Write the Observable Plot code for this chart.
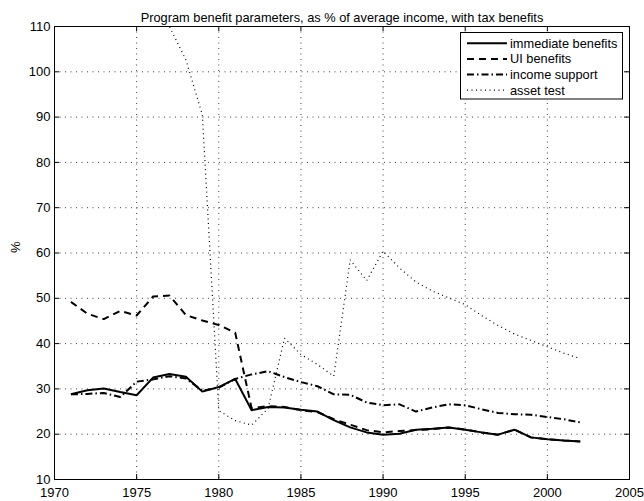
<!DOCTYPE html>
<html>
<head>
<meta charset="utf-8">
<script src="https://cdn.jsdelivr.net/npm/d3@7"></script>
<script src="https://cdn.jsdelivr.net/npm/@observablehq/plot@0.6"></script>
<style>
  html, body { margin: 0; padding: 0; background: #fff; }
  #chart { width: 644px; height: 501px; }
</style>
</head>
<body>
<div id="chart"></div>
<script>
const titleText = "Program benefit parameters, as % of average income, with tax benefits";
const yLabel = "%";
const seriesNames = ["immediate benefits", "UI benefits", "income support", "asset test"];

const years = [1971,1972,1973,1974,1975,1976,1977,1978,1979,1980,1981,1982,1983,1984,1985,1986,
               1987,1988,1989,1990,1991,1992,1993,1994,1995,1996,1997,1998,1999,2000,2001,2002];

const immediate = [28.8,29.7,30.1,29.3,28.6,32.5,33.3,32.7,29.4,30.4,32.2,25.3,26.0,25.9,25.4,25.0,
                   23.1,21.5,20.4,19.9,20.1,21.0,21.2,21.5,21.0,20.4,19.9,21.0,19.3,18.9,18.6,18.4];
const uiBenefits = [49.2,46.6,45.4,47.2,46.2,50.4,50.6,46.3,45.1,44.1,42.4,25.7,26.2,26.0,25.3,24.9,
                    23.3,22.1,20.9,20.4,20.7,20.9,21.1,21.5,21.0,20.4,19.9,21.0,19.3,18.9,18.6,18.4];
const incomeSupport = [28.8,28.9,29.1,28.2,31.6,32.1,32.8,32.3,29.6,30.3,32.2,33.2,33.9,32.6,31.5,30.6,
                       28.8,28.7,27.0,26.4,26.6,25.0,25.9,26.6,26.4,25.5,24.7,24.4,24.3,23.8,23.3,22.6];
const assetTest = [110,110,110,110,110,110,110,102.6,90.5,25.2,23.0,22.0,25.7,41.2,37.6,35.4,
                   32.8,58.5,53.9,60.4,56.7,53.6,51.6,50.1,48.6,46.2,44.0,42.1,40.7,39.3,37.9,36.7];

const xTicks = [1970,1975,1980,1985,1990,1995,2000,2005];
const yTicks = [10,20,30,40,50,60,70,80,90,100,110];

const styles = [
  {dash: null, width: 2},
  {dash: "7,5", width: 2},
  {dash: "7,3,1.5,3", width: 2},
  {dash: "1,3.5", width: 1.2}
];

const seriesValues = [immediate, uiBenefits, incomeSupport, assetTest];
const tables = seriesValues.map((vals, i) => years.map((yr, j) => ({year: yr, value: vals[j], series: seriesNames[i]})));

const W = 644, H = 501;
const mL = 54, mR = 15, mT = 26, mB = 22;
const plotW = W - mL - mR, plotH = H - mT - mB;
const font = "'Liberation Sans', Arial, Helvetica, sans-serif";

const lineMarks = tables.map((t, i) => Plot.line(t, {
  x: "year", y: "value",
  stroke: "black",
  strokeWidth: styles[i].width,
  strokeDasharray: styles[i].dash,
  strokeLinecap: "butt",
  strokeLinejoin: "miter"
}));

const chart = Plot.plot({
  width: W, height: H,
  marginLeft: mL, marginRight: mR, marginTop: mT, marginBottom: mB,
  style: {fontFamily: font, fontSize: "13px", background: "#fff", color: "black"},
  x: {domain: [1970, 2005]},
  y: {domain: [10, 110]},
  marks: [
    Plot.gridX(xTicks.slice(1, -1), {stroke: "black", strokeOpacity: 0.75, strokeDasharray: "1,4.5", strokeWidth: 1}),
    Plot.gridY(yTicks.slice(1, -1), {stroke: "black", strokeOpacity: 0.75, strokeDasharray: "1,4.5", strokeWidth: 1}),
    Plot.tickX(xTicks, {x: d => d, stroke: "black", insetTop: plotH - 5}),
    Plot.tickX(xTicks, {x: d => d, stroke: "black", insetBottom: plotH - 5}),
    Plot.tickY(yTicks, {y: d => d, stroke: "black", insetRight: plotW - 5}),
    Plot.tickY(yTicks, {y: d => d, stroke: "black", insetLeft: plotW - 5}),
    ...lineMarks,
    Plot.frame({stroke: "black", strokeWidth: 1}),
    Plot.axisX(xTicks, {tickSize: 0, tickPadding: 8, tickFormat: d => String(d), fontSize: 13, label: null}),
    Plot.axisY(yTicks, {tickSize: 0, tickPadding: 4, tickFormat: d => String(d), fontSize: 13, label: null}),
    Plot.text([titleText], {text: d => d, frameAnchor: "top", dy: -14, fontSize: 12.8}),
    Plot.text([yLabel], {text: d => d, frameAnchor: "left", dx: -39, rotate: -90, fontSize: 13})
  ]
});

document.getElementById("chart").appendChild(chart);

// Legend (MATLAB-style box in upper right)
const svg = d3.select(chart);
const lg = svg.append("g").attr("font-family", font).attr("font-size", 12.8).attr("text-anchor", "start");
const box = {x: 460.5, y: 32.5, w: 162, h: 66.5};
lg.append("rect").attr("x", box.x).attr("y", box.y).attr("width", box.w).attr("height", box.h)
  .attr("fill", "white").attr("stroke", "black").attr("stroke-width", 1);
seriesNames.forEach((name, i) => {
  const yy = 43.3 + i * 15.6;
  lg.append("line").attr("x1", 467).attr("x2", 507).attr("y1", yy).attr("y2", yy)
    .attr("stroke", "black").attr("stroke-width", styles[i].width)
    .attr("stroke-dasharray", styles[i].dash).attr("stroke-linecap", "butt");
  lg.append("text").attr("x", 510).attr("y", yy).attr("dy", "0.35em")
    .attr("text-anchor", "start").attr("fill", "black").text(name);
});
</script>
</body>
</html>
